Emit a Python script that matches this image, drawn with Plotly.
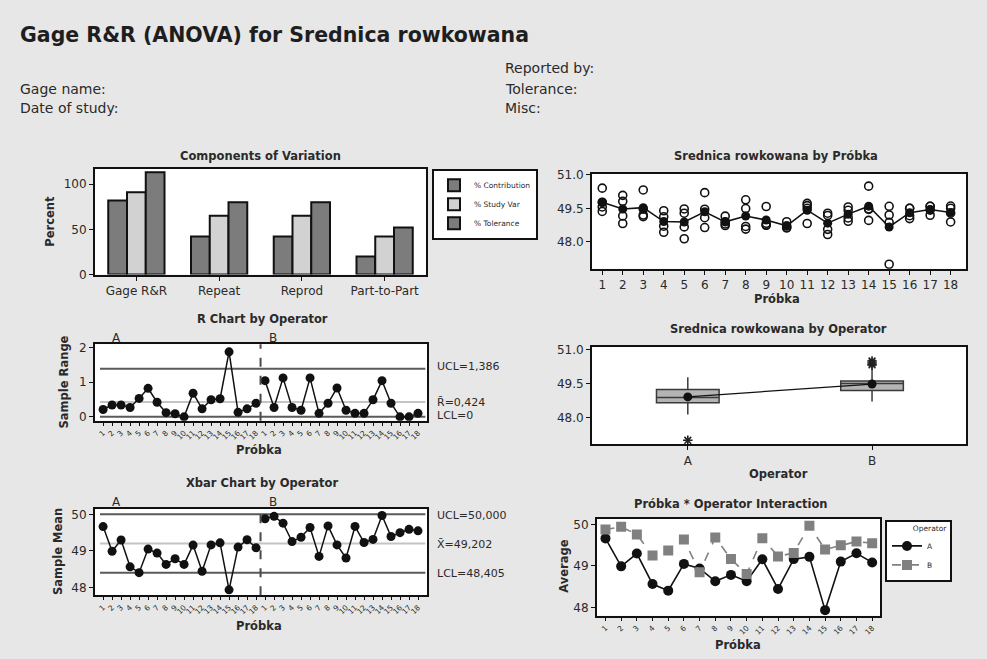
import plotly.graph_objects as go

W, H = 987, 659
def px(x): return x / W
def py(y): return 1 - y / H

FONT = "DejaVu Sans"
TXT = "#2a2a2a"

# ---------------- data ----------------
components = ["Gage R&R", "Repeat", "Reprod", "Part-to-Part"]
pct_contribution = [82, 42, 42, 20]
pct_study_var = [91, 65, 65, 42]
pct_tolerance = [113, 80, 80, 52]

parts = list(range(1, 19))
operators = ["A", "B"]

A_trial1 = [49.56, 48.82, 49.13, 48.43, 48.14, 48.64, 48.73, 48.57, 48.74,
            48.63, 48.82, 48.33, 48.92, 48.96, 47.00, 49.04, 49.19, 48.89]
A_trial2 = [49.77, 49.16, 49.47, 48.70, 48.67, 49.46, 49.15, 48.69, 48.83,
            48.63, 49.50, 48.56, 49.41, 49.48, 48.87, 49.17, 49.42, 49.28]
B_trial1 = [49.36, 49.81, 49.20, 49.12, 49.28, 49.08, 48.80, 49.49, 48.75,
            48.71, 49.62, 49.18, 49.07, 49.45, 49.20, 49.50, 49.59, 49.50]
B_trial2 = [50.40, 50.08, 50.32, 49.39, 49.47, 50.20, 48.90, 49.88, 49.58,
            48.90, 49.72, 49.28, 49.56, 50.49, 49.59, 49.50, 49.59, 49.60]

r_limits = [1.386, 0.424, 0.0]            # UCL, R-bar, LCL
r_labels = ["UCL=1,386", "R\u0304=0,424", "LCL=0"]
xbar_limits = [50.000, 49.202, 48.405]    # UCL, X-double-bar, LCL
xbar_labels = ["UCL=50,000", "X\u0304=49,202", "LCL=48,405"]

# ---------------- derived statistics ----------------
mean_A = [(a + b) / 2 for a, b in zip(A_trial1, A_trial2)]
mean_B = [(a + b) / 2 for a, b in zip(B_trial1, B_trial2)]
range_A = [abs(b - a) for a, b in zip(A_trial1, A_trial2)]
range_B = [abs(b - a) for a, b in zip(B_trial1, B_trial2)]
part_mean = [(a1 + a2 + b1 + b2) / 4 for a1, a2, b1, b2 in
             zip(A_trial1, A_trial2, B_trial1, B_trial2)]
all_A = A_trial1 + A_trial2
all_B = B_trial1 + B_trial2
op_mean = [sum(all_A) / len(all_A), sum(all_B) / len(all_B)]
seq_A = parts
seq_B = [p + len(parts) for p in parts]
seq_labels = [str(p) for p in parts] * 2

fig = go.Figure()

# ---- Components of variation ----
bar_specs = [("% Contribution", pct_contribution, "#7c7c7c"),
             ("% Study Var", pct_study_var, "#d2d2d2"),
             ("% Tolerance", pct_tolerance, "#7c7c7c")]
for name, vals, col in bar_specs:
    fig.add_trace(go.Bar(x=components, y=vals, name=name, xaxis="x", yaxis="y",
                         marker=dict(color=col, line=dict(color="#111", width=2)),
                         legend="legend"))

# ---- by part ----
fig.add_trace(go.Scatter(x=parts * 4, y=A_trial1 + A_trial2 + B_trial1 + B_trial2,
                         mode="markers", xaxis="x2", yaxis="y2", showlegend=False,
                         marker=dict(symbol="circle-open", size=8, color="#111",
                                     line=dict(width=1.6, color="#111"))))
fig.add_trace(go.Scatter(x=parts, y=part_mean, mode="lines+markers", xaxis="x2",
                         yaxis="y2", showlegend=False,
                         line=dict(color="#111", width=1.5),
                         marker=dict(symbol="circle", size=9, color="#111")))

# ---- R chart ----
for seq, vals in ((seq_A, range_A), (seq_B, range_B)):
    fig.add_trace(go.Scatter(x=seq, y=vals, mode="lines+markers", xaxis="x3", yaxis="y3",
                             showlegend=False, line=dict(color="#111", width=1.5),
                             marker=dict(symbol="circle", size=9, color="#111")))

# ---- Boxplot by operator ----
for i, vals in enumerate((all_A, all_B)):
    fig.add_trace(go.Box(x=[i + 1] * len(vals), y=vals, xaxis="x4", yaxis="y4",
                         showlegend=False, width=0.34, whiskerwidth=0,
                         fillcolor="#b4b4b4", line=dict(color="#3a3a3a", width=1.5),
                         boxpoints="outliers",
                         marker=dict(symbol="asterisk-open", size=8, color="#222",
                                     line=dict(color="#222", width=1.6))))
fig.add_trace(go.Scatter(x=[1, 2], y=op_mean, mode="lines+markers", xaxis="x4", yaxis="y4",
                         showlegend=False, line=dict(color="#111", width=1.3),
                         marker=dict(symbol="circle", size=9, color="#111")))

# ---- Xbar chart ----
for seq, vals in ((seq_A, mean_A), (seq_B, mean_B)):
    fig.add_trace(go.Scatter(x=seq, y=vals, mode="lines+markers", xaxis="x5", yaxis="y5",
                             showlegend=False, line=dict(color="#111", width=1.5),
                             marker=dict(symbol="circle", size=9, color="#111")))

# ---- Interaction ----
fig.add_trace(go.Scatter(x=parts, y=mean_A, mode="lines+markers", name=operators[0],
                         xaxis="x6", yaxis="y6", legend="legend2",
                         line=dict(color="#111", width=1.6),
                         marker=dict(symbol="circle", size=10, color="#111")))
fig.add_trace(go.Scatter(x=parts, y=mean_B, mode="lines+markers", name=operators[1],
                         xaxis="x6", yaxis="y6", legend="legend2",
                         line=dict(color="#808080", width=1.6, dash="dash"),
                         marker=dict(symbol="square", size=10, color="#808080")))

# ---------------- axes ----------------
def ax(dom, **kw):
    d = dict(domain=dom, showline=True, mirror=True, linecolor="#111", linewidth=2,
             ticks="outside", ticklen=4, tickcolor="#111", showgrid=False,
             zeroline=False, tickfont=dict(size=12, color=TXT, family=FONT))
    d.update(kw)
    return d

def xd(a, b): return [px(a), px(b)]
def yd(top, bot): return [py(bot), py(top)]

small_tick = dict(size=7.5, color=TXT, family=FONT)

layout = dict(
    xaxis=ax(xd(95, 426), anchor="y", range=[-0.5, 3.5]),
    yaxis=ax(yd(166, 274), anchor="x", range=[0, 117], tickvals=[0, 50, 100]),
    xaxis2=ax(xd(592, 966), anchor="y2", range=[0.5, 18.75], tickvals=parts),
    yaxis2=ax(yd(171, 268), anchor="x2", range=[46.8, 51.05],
              tickvals=[48.0, 49.5, 51.0], tickformat=".1f"),
    xaxis3=ax(xd(95, 427), anchor="y3", range=[0.1, 37], tickvals=seq_A + seq_B,
              ticktext=seq_labels, tickangle=-45, tickfont=small_tick, ticklen=3),
    yaxis3=ax(yd(345, 423), anchor="x3", range=[-0.11, 2.09], tickvals=[0, 1, 2]),
    xaxis4=ax(xd(592, 966), anchor="y4", range=[0.48, 2.51], tickvals=[1, 2],
              ticktext=operators),
    yaxis4=ax(yd(348, 447), anchor="x4", range=[46.83, 51.1],
              tickvals=[48.0, 49.5, 51.0], tickformat=".1f"),
    xaxis5=ax(xd(95, 427), anchor="y5", range=[0.1, 37], tickvals=seq_A + seq_B,
              ticktext=seq_labels, tickangle=-45, tickfont=small_tick, ticklen=3),
    yaxis5=ax(yd(513, 601), anchor="x5", range=[47.79, 50.15], tickvals=[48, 49, 50]),
    xaxis6=ax(xd(597, 880), anchor="y6", range=[0.46, 18.5], tickvals=parts,
              tickangle=-45, tickfont=small_tick, ticklen=3),
    yaxis6=ax(yd(523, 622), anchor="x6", range=[47.8, 50.14], tickvals=[48, 49, 50]),
)

shapes = []
line_styles = [("#5a5a5a", 2), ("#c4c4c4", 2), ("#5a5a5a", 2)]
for xr, yr, lims in (("x3", "y3", r_limits), ("x5", "y5", xbar_limits)):
    for v, (c, w) in zip(lims, line_styles):
        shapes.append(dict(type="line", xref=xr + " domain", yref=yr, x0=0.015, x1=0.995,
                           y0=v, y1=v, line=dict(color=c, width=w), layer="below"))
    shapes.append(dict(type="line", xref=xr, yref=yr + " domain",
                       x0=len(parts) + 0.5, x1=len(parts) + 0.5, y0=0, y1=1,
                       line=dict(color="#4a4a4a", width=2, dash="dash")))

annotations = []
def txt(x, y, s, size=12, bold=False, anchor="center", angle=0, color=TXT):
    annotations.append(dict(x=px(x), y=py(y), xref="paper", yref="paper", text=s,
                            showarrow=False, xanchor=anchor, yanchor="middle",
                            textangle=angle,
                            font=dict(size=size, color=color, family=FONT,
                                      weight="bold" if bold else "normal")))

# header
txt(18, 30, "Gage R&R (ANOVA) for Srednica rowkowana", size=20.5, bold=True,
    anchor="left", color="#1e1e1e")
txt(18, 85, "Gage name:", size=14, anchor="left")
txt(18, 104, "Date of study:", size=14, anchor="left")
txt(503, 63, "Reported by:", size=14, anchor="left")
txt(503, 85, "Tolerance:", size=14, anchor="left")
txt(503, 104, "Misc:", size=14, anchor="left")

# panel titles
txt(260, 153, "Components of Variation", size=11.5, bold=True)
txt(776, 153, "Srednica rowkowana by Próbka", size=11.5, bold=True)
txt(262, 319, "R Chart by Operator", size=11.5, bold=True)
txt(778, 330, "Srednica rowkowana by Operator", size=11.5, bold=True)
txt(262, 487, "Xbar Chart by Operator", size=11.5, bold=True)
txt(731, 508, "Próbka * Operator Interaction", size=11.5, bold=True)

# axis titles
txt(50, 220, "Percent", size=11.5, bold=True, angle=-90)
txt(64, 384, "Sample Range", size=11.5, bold=True, angle=-90)
txt(58, 557, "Sample Mean", size=11.5, bold=True, angle=-90)
txt(564, 572, "Average", size=11.5, bold=True, angle=-90)
txt(777, 299, "Próbka", size=11.5, bold=True)
txt(259, 453, "Próbka", size=11.5, bold=True)
txt(778, 477, "Operator", size=11.5, bold=True)
txt(259, 632, "Próbka", size=11.5, bold=True)
txt(738, 652, "Próbka", size=11.5, bold=True)

# operator group labels
for yy in (339, 506):
    txt(116, yy, operators[0], size=12)
    txt(273, yy, operators[1], size=12)

# control limit labels
for yy, s in zip((368, 404, 418), r_labels):
    txt(435, yy, s, size=11, anchor="left")
for yy, s in zip((520, 549, 579), xbar_labels):
    txt(435, yy, s, size=11, anchor="left")

fig.update_layout(
    **layout,
    width=W, height=H, autosize=False,
    margin=dict(l=0, r=0, t=0, b=0),
    paper_bgcolor="#e7e7e7", plot_bgcolor="white",
    font=dict(family=FONT, color=TXT),
    barmode="group", bargap=0.32, bargroupgap=0,
    shapes=shapes, annotations=annotations,
    legend=dict(x=px(432), y=py(166), xanchor="left", yanchor="top",
                bgcolor="white", bordercolor="#111", borderwidth=2,
                font=dict(size=7.5, family=FONT, color=TXT), tracegroupgap=0,
                itemwidth=30, traceorder="normal"),
    legend2=dict(x=px(885), y=py(524), xanchor="left", yanchor="top",
                 bgcolor="white", bordercolor="#111", borderwidth=2,
                 font=dict(size=7.5, family=FONT, color=TXT), itemwidth=30,
                 title=dict(text="          Operator", font=dict(size=7.5, family=FONT),
                            side="top")),
)

fig.write_html("out.html", config={"displayModeBar": False},
               post_script="document.body.style.margin='0px';"
                           "document.body.style.overflow='hidden';")
